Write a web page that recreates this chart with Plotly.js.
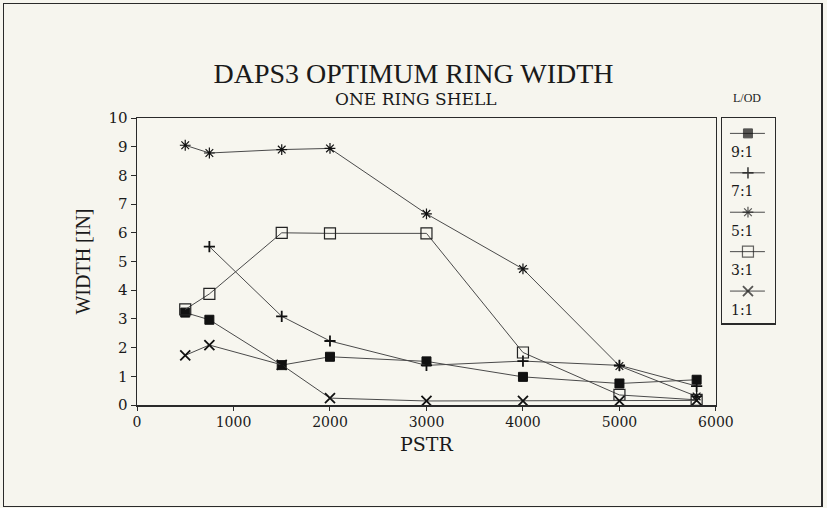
<!DOCTYPE html>
<html>
<head>
<meta charset="utf-8">
<script src="https://cdn.plot.ly/plotly-3.0.1.min.js"></script>
<style>
  body { margin: 0; background: #f6f5ee; }
  #chart { width: 827px; height: 508px; }
  .frame {
    position: absolute; left: 3px; top: 3px; width: 820px; height: 504px;
    box-sizing: border-box; border: 1.5px solid #2a2a2a; border-right-width: 2.5px;
    pointer-events: none;
  }
</style>
</head>
<body>
<div id="chart"></div>
<div class="frame"></div>
<script>
// PSTR values shared by every L/OD series
const pstr = [500, 750, 1500, 2000, 3000, 4000, 5000, 5800];

// optimum ring width [in]
const width91 = [3.22, 2.97, 1.39, 1.68, 1.52, 0.98, 0.75, 0.88];
const width71 = [null, 5.52, 3.09, 2.23, 1.38, 1.53, 1.38, 0.66];
const width51 = [9.05, 8.78, 8.90, 8.94, 6.66, 4.74, 1.36, 0.30];
const width31 = [3.33, 3.87, 6.00, 5.98, 5.98, 1.83, 0.35, 0.18];
const width11 = [1.73, 2.09, 1.40, 0.24, 0.14, 0.14, 0.14, 0.16];

const seriesNames = ['9:1', '7:1', '5:1', '3:1', '1:1'];
const seriesValues = [width91, width71, width51, width31, width11];

const xTicks = [0, 1000, 2000, 3000, 4000, 5000, 6000];
const yTicks = [0, 1, 2, 3, 4, 5, 6, 7, 8, 9, 10];

// marker look for each series
const markerStyles = [
  { symbol: 'square', size: 9, color: '#111', line: { color: '#111', width: 1 } },
  { symbol: 'cross-thin-open', size: 8, color: '#111', line: { color: '#111', width: 1.8 } },
  { symbol: 'asterisk-open', size: 9, color: '#111', line: { color: '#111', width: 1.2 } },
  { symbol: 'square-open', size: 11, color: '#222', line: { color: '#222', width: 1.2 } },
  { symbol: 'x-thin-open', size: 10, color: '#111', line: { color: '#111', width: 1.8 } }
];

const serif = 'DejaVu Serif, serif';
const times = 'Liberation Serif, serif';
const ink = '#1a1a1a';

const data = [];
const annotations = [];

seriesValues.forEach((vals, i) => {
  data.push({
    type: 'scatter',
    x: pstr,
    y: vals,
    name: seriesNames[i],
    mode: 'lines+markers',
    connectgaps: false,
    line: { color: '#4a4a4a', width: 1 },
    marker: markerStyles[i],
    showlegend: false,
    xaxis: 'x',
    yaxis: 'y'
  });

  // hand-made legend: sample line with marker, label underneath
  const row = i + 0.39;
  data.push({
    type: 'scatter',
    x: [0.15, 0.49, 0.81],
    y: [row, row, row],
    mode: 'lines+markers',
    line: { color: '#4a4a4a', width: 1 },
    marker: Object.assign({}, markerStyles[i], { size: [0, markerStyles[i].size, 0] }),
    showlegend: false,
    hoverinfo: 'skip',
    xaxis: 'x2',
    yaxis: 'y2'
  });
  annotations.push({
    xref: 'x2', yref: 'y2', x: 0.13, y: i + 0.86,
    xanchor: 'left', yanchor: 'middle', showarrow: false,
    text: seriesNames[i],
    font: { family: serif, size: 14, color: ink }
  });
});

annotations.push({
  xref: 'paper', yref: 'paper', x: 0.4366, y: 1.066,
  xanchor: 'center', yanchor: 'middle', showarrow: false,
  text: 'ONE RING SHELL',
  font: { family: serif, size: 17, color: ink }
});
annotations.push({
  xref: 'paper', yref: 'paper', x: 0.9546, y: 1.07,
  xanchor: 'center', yanchor: 'middle', showarrow: false,
  text: 'L/OD',
  font: { family: times, size: 12, color: ink }
});

const axisLine = { showline: true, mirror: true, linecolor: '#2a2a2a', linewidth: 1.5 };

const layout = {
  width: 827,
  height: 508,
  margin: { l: 137, r: 51, t: 118, b: 103 },
  paper_bgcolor: '#f6f5ee',
  plot_bgcolor: '#f7f6ef',
  showlegend: false,
  title: {
    text: 'DAPS3 OPTIMUM RING WIDTH',
    font: { family: times, size: 28, color: ink },
    xref: 'container', x: 0.5, xanchor: 'center',
    yref: 'container', y: 0.855, yanchor: 'middle'
  },
  xaxis: Object.assign({
    domain: [0, 0.906],
    range: [0, 6000],
    tickvals: xTicks,
    ticks: 'outside', ticklen: 4, tickcolor: '#2a2a2a',
    showgrid: false, zeroline: false,
    tickfont: { family: serif, size: 14, color: ink },
    title: { text: 'PSTR', font: { family: serif, size: 19, color: ink }, standoff: 8 }
  }, axisLine),
  yaxis: Object.assign({
    range: [0, 10],
    tickvals: yTicks,
    ticks: 'outside', ticklen: 5, tickcolor: '#2a2a2a',
    showgrid: false, zeroline: false,
    tickfont: { family: serif, size: 15, color: ink },
    title: { text: 'WIDTH [IN]', font: { family: times, size: 20, color: ink }, standoff: 12 }
  }, axisLine),
  xaxis2: Object.assign({
    domain: [0.9155, 0.9984], anchor: 'y2', range: [0, 1],
    showticklabels: false, ticks: '', showgrid: false, zeroline: false, fixedrange: true
  }, axisLine),
  yaxis2: Object.assign({
    domain: [0.2857, 1], anchor: 'x2', range: [5.2, 0],
    showticklabels: false, ticks: '', showgrid: false, zeroline: false, fixedrange: true
  }, axisLine),
  annotations: annotations
};

Plotly.newPlot('chart', data, layout, { displayModeBar: false, staticPlot: true });
</script>
</body>
</html>
